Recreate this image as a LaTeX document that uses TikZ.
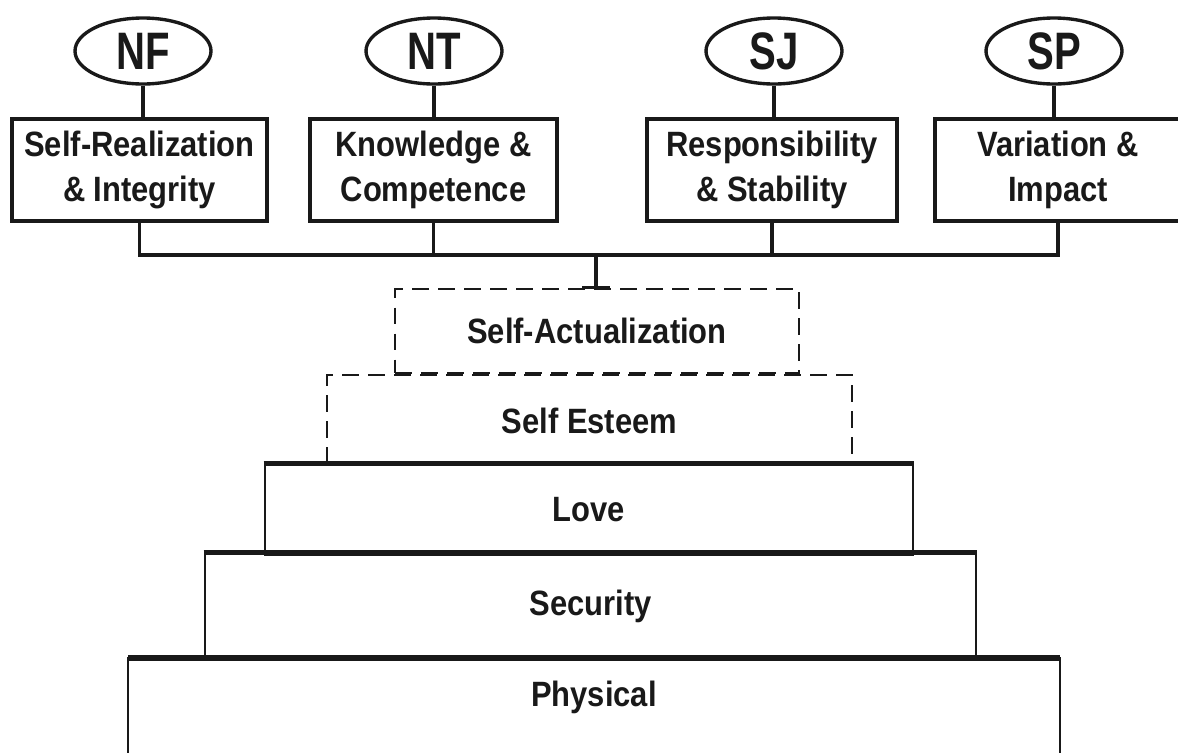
\documentclass[tikz,border=0pt]{standalone}
\usepackage{fontspec}
\setmainfont{Liberation Sans}
\newfontfamily\boxfont{Liberation Sans}[FakeStretch=0.88]
\newfontfamily\ovalfont{Liberation Sans}[FakeStretch=0.76]
\usetikzlibrary{shapes.geometric,calc}
\def\pu{0.025cm}
\colorlet{inkc}{black!90}
\tikzset{
  topbox/.style={draw=inkc, line width=2.9pt, minimum height=102*\pu, inner sep=0pt,
    align=center, text=inkc, font=\boxfont\bfseries\fontsize{25}{32}\selectfont},
  oval/.style={ellipse, draw=inkc, line width=2.4pt, minimum width=136*\pu,
    minimum height=66*\pu, inner sep=0pt, text=inkc,
    font=\ovalfont\bfseries\fontsize{37.5}{40}\selectfont},
  conn/.style={draw=inkc, line width=2.4pt},
  tier/.style={draw=inkc, line width=2pt, inner sep=0pt, text=inkc,
    font=\boxfont\bfseries\fontsize{25}{32}\selectfont},
  tierlabel/.style={inner sep=0pt, text=inkc,
    font=\boxfont\bfseries\fontsize{25}{32}\selectfont},
  tierline/.style={draw=inkc, line width=2pt},
  toptier/.style={draw=inkc, line width=3.6pt},
  dashline/.style={draw=inkc, line width=1.9pt, dash pattern=on 12pt off 6.5pt},
}
\begin{document}
\begin{tikzpicture}[x=0.025cm, y=-0.025cm]
\useasboundingbox (0,0) rectangle (1178,752);
\fill[white] (0,0) rectangle (1178,752);

% ovals
\node[oval] (nf) at (143,51) {NF};
\node[oval] (nt) at (434,51) {NT};
\node[oval] (sj) at (774,51) {SJ};
\node[oval] (sp) at (1054,51) {SP};

% value boxes
\node[topbox, minimum width=255*\pu] (b1) at (139.5,170) {Self-Realization\\\& Integrity};
\node[topbox, minimum width=247*\pu] (b2) at (433.5,170) {Knowledge \&\\Competence};
\node[topbox, minimum width=250*\pu] (b3) at (772,170) {Responsibility\\\& Stability};
\node[topbox, minimum width=246*\pu] (b4) at (1058,170) {Variation \&\\Impact};

% stems from ovals
\draw[conn] (nf.south) -- (nf.south |- b1.north);
\draw[conn] (nt.south) -- (nt.south |- b2.north);
\draw[conn] (sj.south) -- (sj.south |- b3.north);
\draw[conn] (sp.south) -- (sp.south |- b4.north);

% pyramid
\node[tier, dashline, minimum width=404*\pu, minimum height=84*\pu] (sa) at (597,331) {Self-Actualization};
\node[tierlabel] (se) at (589.5,421) {Self Esteem};
\draw[dashline] (327,464) -- (327,375) -- (852,375) -- (852,464);
\node[tier, minimum width=648*\pu, minimum height=90*\pu] (love) at (589,510) {Love};
\node[tier, minimum width=771*\pu, minimum height=104*\pu] (sec) at (590.5,606) {Security};
\node[tierlabel] (phys) at (594,697) {Physical};
\draw[tierline] (128,775) -- (128,658) -- (1060,658) -- (1060,775);
\draw[toptier] (love.north west) -- (love.north east);
\draw[toptier] (sec.north west) -- (sec.north east);
\draw[toptier] (128,658) -- (1060,658);

% bus
\coordinate (bus) at (596,255);
\draw[conn] (b1.south) |- (bus) -| (b4.south);
\draw[conn] (b2.south) -- (b2.south |- bus);
\draw[conn] (b3.south) -- (b3.south |- bus);
\draw[conn] (bus) -- (bus |- sa.north);
\draw[conn] ($(bus |- sa.north)+(-14,0)$) -- ($(bus |- sa.north)+(14,0)$);
\end{tikzpicture}
\end{document}
